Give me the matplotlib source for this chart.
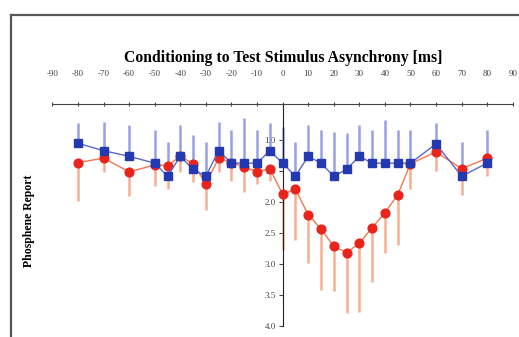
import numpy as np
import matplotlib.pyplot as plt
from matplotlib.lines import Line2D

# asynchrony (ms) and phosphene report values
asynchrony = [-80, -70, -60, -50, -45, -40, -35, -30, -25, -20, -15, -10, -5, 0,
              5, 10, 15, 20, 25, 30, 35, 40, 45, 50, 60, 70, 80]
blue_mean = [1.06, 1.18, 1.27, 1.38, 1.59, 1.27, 1.48, 1.59, 1.18, 1.38, 1.38, 1.38, 1.18, 1.38,
             1.59, 1.27, 1.38, 1.59, 1.48, 1.27, 1.38, 1.38, 1.38, 1.38, 1.07, 1.59, 1.38]
blue_err = [0.32, 0.46, 0.50, 0.54, 0.55, 0.50, 0.55, 0.55, 0.46, 0.54, 0.72, 0.54, 0.44, 0.58,
            0.55, 0.50, 0.54, 0.71, 0.58, 0.50, 0.53, 0.69, 0.53, 0.53, 0.33, 0.55, 0.53]
red_mean = [1.37, 1.30, 1.52, 1.41, 1.42, 1.27, 1.39, 1.71, 1.30, 1.37, 1.44, 1.52, 1.47, 1.88,
            1.80, 2.21, 2.44, 2.72, 2.82, 2.67, 2.42, 2.18, 1.89, 1.39, 1.20, 1.47, 1.30]
red_err = [0.62, 0.23, 0.39, 0.33, 0.38, 0.25, 0.30, 0.43, 0.23, 0.30, 0.41, 0.20, 0.20, 0.90,
           0.82, 0.77, 0.98, 0.72, 0.97, 1.11, 0.88, 0.64, 0.80, 0.41, 0.30, 0.43, 0.29]

xticks = np.arange(-90, 91, 10)
yticks = [1.0, 1.5, 2.0, 2.5, 3.0, 3.5, 4.0]

fig = plt.figure(figsize=(5.19, 3.37), dpi=100)
ax = fig.add_axes([0.101, 0.033, 0.887, 0.658])

zeros = np.zeros(len(asynchrony))
ax.errorbar(asynchrony, red_mean, yerr=[zeros, red_err], fmt='none',
            ecolor='#f9ad93', elinewidth=1.8, capsize=0, zorder=2)
ax.errorbar(asynchrony, blue_mean, yerr=[blue_err, zeros], fmt='none',
            ecolor='#95a0e6', elinewidth=1.8, capsize=0, zorder=2)
ax.plot(asynchrony, red_mean, color='#f5764f', lw=1.0, marker='o', ms=6.3,
        mfc='#e8241c', mec='#e8241c', zorder=3)
ax.plot(asynchrony, blue_mean, color='#5a68cc', lw=1.0, marker='s', ms=5.8,
        mfc='#2438b0', mec='#2438b0', zorder=4)

ax.set_xlim(-90, 90)
ax.set_ylim(4.0, 0.43)

ax.spines['bottom'].set_visible(False)
ax.spines['right'].set_visible(False)
ax.spines['left'].set_position(('data', 0))
ax.spines['left'].set_color('#222222')
ax.spines['top'].set_color('#444444')
ax.spines['top'].set_linewidth(0.8)

ax.xaxis.tick_top()
ax.set_xticks(xticks)
ax.set_xticklabels([str(v) for v in xticks], family='Liberation Serif', fontsize=6.5, color='#444444')
ax.tick_params(axis='x', direction='inout', length=3, pad=17, colors='#444444')
ax.set_yticks(yticks)
ax.set_yticklabels(['%.1f' % v for v in yticks], family='Liberation Serif', fontsize=6.5, color='#555555')
ax.tick_params(axis='y', direction='out', length=3, pad=2, colors='#444444')

fig.text(0.545, 0.828, 'Conditioning to Test Stimulus Asynchrony [ms]', ha='center', va='center',
         family='Liberation Serif', fontweight='bold', fontsize=11.3)
fig.text(0.056, 0.345, 'Phosphene Report', rotation=90, ha='center', va='center',
         family='Liberation Serif', fontweight='bold', fontsize=8.5)

# grey frame on the left and top
fig.add_artist(Line2D([0.021, 1.0], [0.955, 0.955], transform=fig.transFigure, color='#555555', lw=1.6))
fig.add_artist(Line2D([0.021, 0.021], [0.0, 0.955], transform=fig.transFigure, color='#555555', lw=1.6))

fig.savefig('out.png', dpi=100)
